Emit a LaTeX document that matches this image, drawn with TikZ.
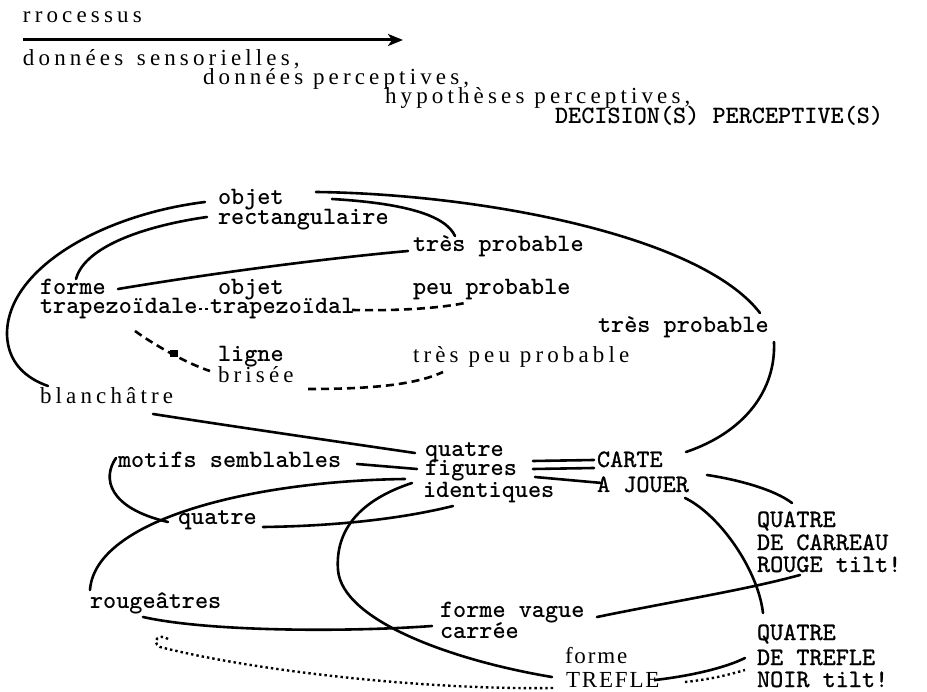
\documentclass[tikz,border=0pt]{standalone}
\usepackage{fontspec}
\setmainfont{Liberation Serif}
\newfontfamily\spacedserif{Liberation Serif}[LetterSpace=18]
\newfontfamily\lightserif{Liberation Serif}[LetterSpace=8]
\newfontfamily\typemed{lmmono10-regular}[Extension=.otf, FakeBold=1]
\usetikzlibrary{arrows.meta,calc}

\tikzset{
  lbl/.style={inner sep=0pt, outer sep=0pt, anchor=base west},
  tw/.style={lbl, font=\ttfamily\bfseries\fontsize{25}{25}\selectfont},
  twm/.style={lbl, font=\typemed\fontsize{25}{25}\selectfont},
  sp/.style={lbl, font=\spacedserif\fontsize{23}{23}\selectfont},
  rm/.style={lbl, font=\lightserif\fontsize{23}{23}\selectfont},
  link/.style={line width=2.6pt, line cap=round},
  dashlink/.style={line width=2.6pt, dash pattern=on 8pt off 5pt},
  dotlink/.style={line width=2.4pt, dash pattern=on 2.4pt off 3pt},
}

\begin{document}
\begin{tikzpicture}[x=1pt, y=-1pt]
\useasboundingbox (0,0) rectangle (927,692);

% --- heading ---
\node[sp] (proc) at (23,23) {rrocessus};
\node[sp] (ds) at (23,66) {données\, sensorielles,};
\node[sp] (dp) at (203,85) {données perceptives,};
\node[sp] (hp) at (385,104) {hypothèses perceptives,};
\node[tw] (dec) at (555,124) {DECISION(S) PERCEPTIVE(S)};
\draw[line width=3pt, -{Stealth[length=15pt, width=12pt, inset=4pt]}]
  ($(proc.base west)+(0,17)$) -- ($(proc.base west)+(380,17)$);

% --- labels ---
\node[tw] (objA) at (218,205) {objet};
\node[tw] (rect) at (218,225) {rectangulaire};
\node[tw] (tp1) at (413,252) {très probable};
\node[tw] (forme) at (40,295) {forme};
\node[tw] (trapA) at (40,314) {trapezoïdale};
\node[tw] (objB) at (218,295) {objet};
\node[tw] (trapB) at (210,314) {trapezoïdal};
\node[tw] (peu) at (413,295) {peu probable};
\node[tw] (tp2) at (598,333) {très probable};
\node[tw] (ligne) at (218,362) {ligne};
\node[sp] (brisee) at (218,383) {brisée};
\node[sp] (tpp) at (413,363) {très peu probable};
\node[sp] (blanc) at (40,404) {blanchâtre};
\node[tw] (q1) at (425,457) {quatre};
\node[tw] (fig) at (425,476) {figures};
\node[tw] (ident) at (423,497) {identiques};
\node[twm] (carte) at (597,467) {CARTE};
\node[twm] (jouer) at (597,492) {A JOUER};
\node[tw] (motifs) at (118,468) {motifs semblables};
\node[tw] (q2) at (178,525) {quatre};
\node[twm] (Qa) at (757,527) {QUATRE};
\node[twm] (DC) at (757,550) {DE CARREAU};
\node[twm] (RT) at (757,572) {ROUGE tilt!};
\node[tw] (rouge) at (90,608) {rougeâtres};
\node[tw] (fv) at (440,617) {forme vague};
\node[tw] (carree) at (440,638) {carrée};
\node[twm] (Qb) at (757,640) {QUATRE};
\node[twm] (DT) at (757,665) {DE TREFLE};
\node[twm] (NT) at (757,687) {NOIR tilt!};
\node[rm] (fs) at (565,663) {forme};
\node[rm] (tref) at (566,687) {TREFLE};

% --- solid links ---
\draw[link] ($(objA.base west)+(-13,-3)$) .. controls (100,215) and (6,270) .. (7,335)
  .. controls (8,362) and (25,378) .. ($(blanc.base west)+(8,-18)$);
\draw[link] ($(rect.base west)+(-11,-8)$) .. controls (150,225) and (85,245) .. ($(forme.base west)+(36,-16)$);
\draw[link] ($(forme.base west)+(78,-6)$) .. controls (220,272) and (330,258) .. ($(tp1.base west)+(-5,-1)$);
\draw[link] ($(objA.base west)+(98,-13)$) .. controls (480,194) and (700,235) .. ($(tp2.base west)+(162,-20)$);
\draw[link] ($(objA.base west)+(114,-6)$) .. controls (400,203) and (445,214) .. ($(tp1.base west)+(42,-16)$);
\draw[link] ($(tp2.base west)+(176,9)$) .. controls (776,390) and (745,432) .. ($(carte.base west)+(89,-15)$);
\draw[link] ($(blanc.base west)+(113,10)$) .. controls (230,426) and (340,442) .. ($(q1.base west)+(-10,-4)$);
\draw[link] ($(motifs.base west)+(239,-4)$) -- ($(fig.base west)+(-8,-7)$);
\draw[link] ($(fig.base west)+(-20,3)$) .. controls (250,481) and (95,520) .. ($(rouge.base west)+(0,-18)$);
\draw[link] ($(motifs.base west)+(-2,-10)$) .. controls (102,478) and (108,508) .. ($(q2.base west)+(-10,-3)$);
\draw[link] ($(q2.base west)+(85,2)$) .. controls (340,526) and (405,518) .. ($(ident.base west)+(30,9)$);
\draw[link] ($(fig.base west)+(-13,7)$) .. controls (360,500) and (335,530) .. (338,570)
  .. controls (342,620) and (450,660) .. ($(tref.base west)+(-14,-10)$);
\draw[link] ($(rouge.base west)+(53,9)$) .. controls (210,632) and (350,632) .. ($(carree.base west)+(-8,-12)$);
\draw[link] ($(fv.base west)+(157,0)$) .. controls (680,600) and (745,590) .. ($(RT.base west)+(43,3)$);
\draw[link] ($(jouer.base west)+(110,-17)$) .. controls (740,480) and (775,490) .. ($(Qa.base west)+(35,-24)$);
\draw[link] ($(jouer.base west)+(88,6)$) .. controls (720,515) and (758,570) .. ($(Qb.base west)+(6,-27)$);
\draw[link] ($(tref.base west)+(89,-7)$) .. controls (690,676) and (725,668) .. ($(DT.base west)+(-12,-7)$);

% triple bond between the two groups
\draw[link] ($(fig.base west)+(108,-15)$) -- ($(carte.base west)+(-3,-7)$);
\draw[link] ($(fig.base west)+(108,-7)$) -- ($(carte.base west)+(-3,1)$);
\draw[link] ($(fig.base west)+(110,1)$) -- ($(jouer.base west)+(5,-9)$);

% --- dashed links ---
\draw[line width=2.2pt, dash pattern=on 3pt off 3pt] ($(trapA.base west)+(159,-5)$) -- ($(trapB.base west)+(-1,-5)$);
\draw[dashlink] ($(trapB.base west)+(142,-4)$) .. controls (400,311) and (440,308) .. ($(peu.base west)+(52,8)$);
\draw[dashlink] ($(trapA.base west)+(95,17)$) .. controls (150,342) and (185,363) .. ($(ligne.base west)+(-8,9)$);
\fill (170,350) rectangle (178,357);
\draw[dashlink] ($(brisee.base west)+(90,6)$) .. controls (370,389) and (415,385) .. ($(tpp.base west)+(30,9)$);

% --- dotted links ---
\draw[dotlink] ($(rouge.base west)+(78,31)$) .. controls (160,633) and (150,641) .. (160,647)
  .. controls (250,670) and (420,690) .. ($(tref.base west)+(-12,1)$);
\draw[dotlink] ($(tref.base west)+(119,-5)$) .. controls (705,680) and (725,676) .. ($(DT.base west)+(-12,5)$);
\end{tikzpicture}
\end{document}
